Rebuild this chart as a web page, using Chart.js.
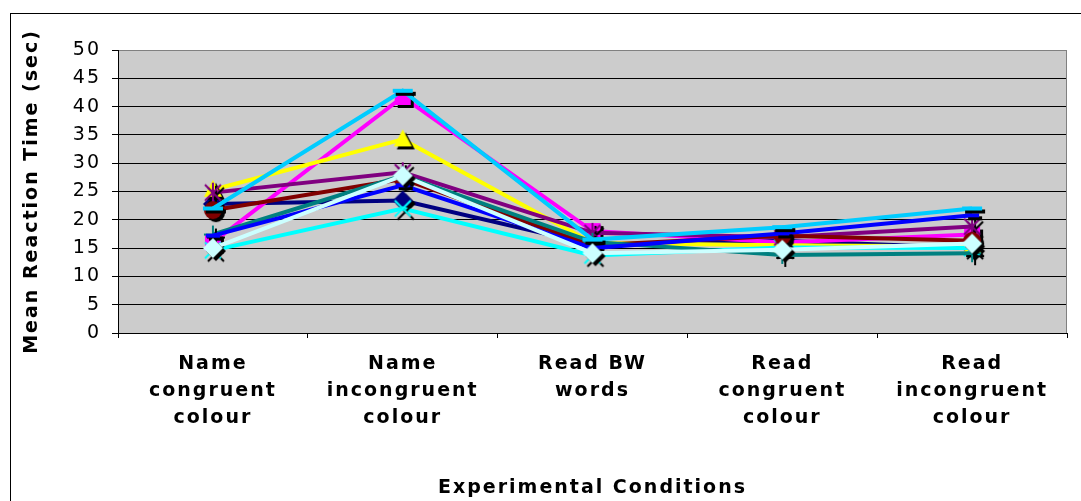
<!DOCTYPE html>
<html>
<head>
<meta charset="utf-8">
<script src="https://cdn.jsdelivr.net/npm/chart.js@4.4.1/dist/chart.umd.min.js"></script>
<style>
  html, body { margin: 0; padding: 0; background: #fff; overflow: hidden; }
  #frame { position: absolute; left: 10px; top: 13px; border-left: 1px solid #000; border-top: 1px solid #000; }
  #chart { display: block; }
</style>
</head>
<body>
<div id="frame"><canvas id="chart" width="1070" height="487"></canvas></div>
<script>
// experimental conditions (x categories)
const conditions = [
    ['Name', 'congruent', 'colour'],
    ['Name', 'incongruent', 'colour'],
    ['Read BW', 'words'],
    ['Read', 'congruent', 'colour'],
    ['Read', 'incongruent', 'colour']
];

// mean reaction times per subject (sec)
const s1 = [22.8, 23.4, 15.6, 16.3, 15.0];
const s2 = [16.0, 41.7, 18.0, 16.0, 17.4];
const s3 = [25.3, 34.2, 15.9, 15.5, 15.3];
const s4 = [14.6, 22.0, 13.7, 15.1, 15.0];
const s5 = [24.8, 28.4, 17.7, 16.9, 18.8];
const s6 = [21.7, 27.2, 15.5, 17.2, 16.3];
const s7 = [17.4, 27.8, 16.1, 13.8, 14.1];
const s8 = [17.2, 26.1, 15.0, 17.6, 20.8];
const s9 = [22.0, 42.8, 16.5, 18.7, 22.0];
const s10 = [15.0, 27.8, 14.1, 14.7, 15.8];

const yTicks = [0, 5, 10, 15, 20, 25, 30, 35, 40, 45, 50];

// excel style colours and markers
const colors = ['#000080', '#FF00FF', '#FFFF00', '#00FFFF', '#800080', '#800000', '#008080', '#0000FF', '#00CCFF', '#CCFFFF'];
const shapes = ['diamond', 'square', 'triangle', 'x', 'star', 'circle', 'plus', 'dash', 'longdash', 'diamond'];

function marker(shape, color) {
    const c = document.createElement('canvas');
    c.width = 30; c.height = 30;
    const g = c.getContext('2d');
    const draw = (ox, oy, col) => {
        g.save();
        g.translate(15 + ox, 15 + oy);
        g.fillStyle = col;
        g.strokeStyle = col;
        g.lineWidth = 2;
        g.beginPath();
        if (shape === 'diamond') {
            g.moveTo(0, -10); g.lineTo(10, 0); g.lineTo(0, 10); g.lineTo(-10, 0); g.closePath(); g.fill();
        } else if (shape === 'square') {
            g.fillRect(-8, -8, 16, 16);
        } else if (shape === 'triangle') {
            g.moveTo(0, -10); g.lineTo(9, 7); g.lineTo(-9, 7); g.closePath(); g.fill();
        } else if (shape === 'circle') {
            g.arc(0, 0, 9, 0, Math.PI * 2); g.fill();
        } else if (shape === 'x' || shape === 'star') {
            g.moveTo(-8, -8); g.lineTo(8, 8); g.moveTo(8, -8); g.lineTo(-8, 8);
            if (shape === 'star') { g.moveTo(0, -10); g.lineTo(0, 10); }
            g.stroke();
        } else if (shape === 'plus') {
            g.moveTo(0, -9); g.lineTo(0, 9); g.moveTo(-9, 0); g.lineTo(9, 0); g.stroke();
        } else if (shape === 'dash') {
            g.fillRect(-7, -2, 14, 4);
        } else if (shape === 'longdash') {
            g.fillRect(-10, -2, 20, 4);
        }
        g.restore();
    };
    draw(3, 3, '#000');
    draw(0, 0, color);
    return c;
}

const series = [s1, s2, s3, s4, s5, s6, s7, s8, s9, s10];

const datasets = series.map((vals, i) => ({
    label: 'Subject ' + (i + 1),
    data: vals,
    borderColor: colors[i],
    backgroundColor: colors[i],
    borderWidth: 4,
    pointStyle: marker(shapes[i], colors[i]),
    pointRadius: 10,
    fill: false,
    tension: 0,
    order: series.length - i
}));

const plotArea = {
    id: 'plotArea',
    beforeLayout(c) { c.ctx.letterSpacing = '2px'; },
    beforeDraw(c) {
        const { ctx, chartArea: a } = c;
        ctx.letterSpacing = '2px';
        ctx.save();
        ctx.fillStyle = '#cccccc';
        ctx.fillRect(a.left, a.top, a.right - a.left, a.bottom - a.top);
        ctx.restore();
    },
    beforeDatasetsDraw(c) {
        const { ctx, chartArea: a } = c;
        ctx.save();
        ctx.strokeStyle = '#808080';
        ctx.lineWidth = 1;
        ctx.beginPath();
        ctx.moveTo(a.right - 0.5, a.top);
        ctx.lineTo(a.right - 0.5, a.bottom);
        ctx.stroke();
        ctx.restore();
    }
};

const font = 'DejaVu Sans';

new Chart(document.getElementById('chart').getContext('2d'), {
    type: 'line',
    data: { labels: conditions, datasets: datasets },
    options: {
        responsive: false,
        animation: false,
        events: [],
        layout: { padding: { left: 0, top: 36, right: 3, bottom: 0 } },
        plugins: {
            legend: { display: false },
            tooltip: { enabled: false }
        },
        scales: {
            x: {
                offset: true,
                grid: { display: true, drawOnChartArea: false, drawTicks: true, tickLength: 5, offset: true, color: '#000' },
                border: { display: true, color: '#000', width: 1 },
                ticks: {
                    color: '#000',
                    font: { family: font, weight: 'bold', size: 19, lineHeight: 27 / 19 },
                    padding: 13, maxRotation: 0, autoSkip: false
                },
                title: {
                    display: true, text: 'Experimental Conditions', color: '#000',
                    font: { family: font, weight: 'bold', size: 19 },
                    padding: { top: 0, bottom: 2 }
                },
                afterFit(s) { s.height = 168; }
            },
            y: {
                min: yTicks[0],
                max: yTicks[yTicks.length - 1],
                afterBuildTicks(s) { s.ticks = yTicks.map(v => ({ value: v })); },
                ticks: { color: '#000', font: { family: font, size: 19 }, padding: 11 },
                grid: {
                    color: ctx => (ctx.tick && ctx.tick.value === 50) ? '#808080' : '#000',
                    tickColor: '#000', tickLength: 6, drawTicks: true
                },
                border: { display: true, color: '#000', width: 1 },
                title: {
                    display: true, text: 'Mean Reaction Time (sec)', color: '#000',
                    font: { family: font, weight: 'bold', size: 19 },
                    padding: { top: 10, bottom: 0 }
                },
                afterFit(s) { s.width = 107; }
            }
        }
    },
    plugins: [plotArea]
});
</script>
</body>
</html>
